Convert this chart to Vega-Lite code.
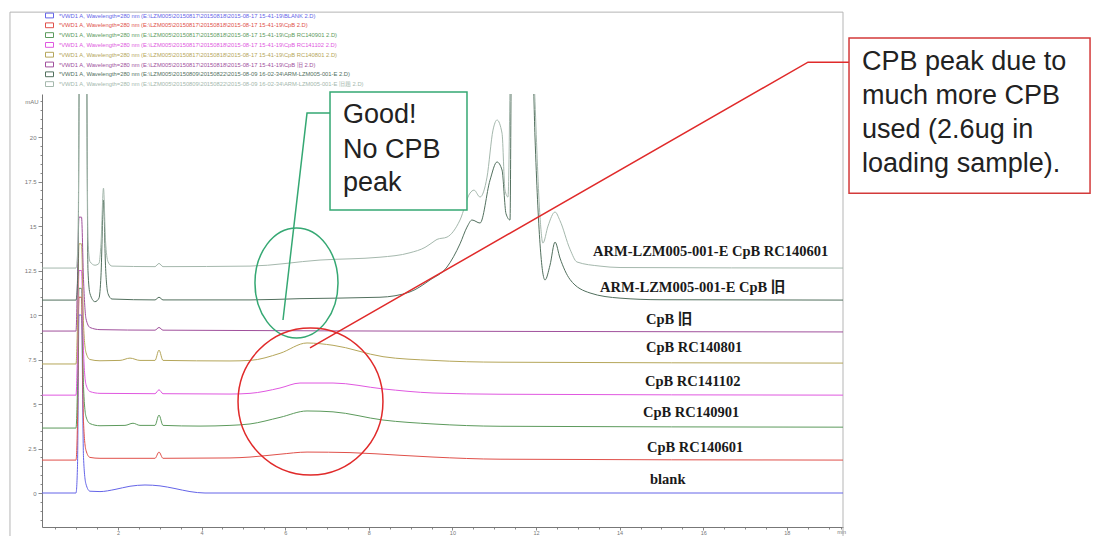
{
  "$schema": "https://vega.github.io/schema/vega-lite/v6.json",
  "width": 801,
  "height": 433,
  "autosize": {"type": "none"},
  "padding": {"left": 42, "top": 94, "right": 253, "bottom": 9},
  "background": "white",
  "config": {"view": {"stroke": null}, "font": "Liberation Sans"},
  "datasets": {
    "series": [
      {"k": "blank", "file": "*VWD1 A, Wavelength=280 nm (E:\\LZM005\\20150817\\20150818\\2015-08-17 15-41-19\\BLANK 2.D)"},
      {"k": "RC140601", "file": "*VWD1 A, Wavelength=280 nm (E:\\LZM005\\20150817\\20150818\\2015-08-17 15-41-19\\CpB 2.D)"},
      {"k": "RC140901", "file": "*VWD1 A, Wavelength=280 nm (E:\\LZM005\\20150817\\20150818\\2015-08-17 15-41-19\\CpB RC140901 2.D)"},
      {"k": "RC141102", "file": "*VWD1 A, Wavelength=280 nm (E:\\LZM005\\20150817\\20150818\\2015-08-17 15-41-19\\CpB RC141102 2.D)"},
      {"k": "RC140801", "file": "*VWD1 A, Wavelength=280 nm (E:\\LZM005\\20150817\\20150818\\2015-08-17 15-41-19\\CpB RC140801 2.D)"},
      {"k": "old", "file": "*VWD1 A, Wavelength=280 nm (E:\\LZM005\\20150817\\20150818\\2015-08-17 15-41-19\\CpB 旧 2.D)"},
      {"k": "ARMold", "file": "*VWD1 A, Wavelength=280 nm (E:\\LZM005\\20150809\\20150822\\2015-08-09 16-02-34\\ARM-LZM005-001-E 2.D)"},
      {"k": "ARM601", "file": "*VWD1 A, Wavelength=280 nm (E:\\LZM005\\20150809\\20150822\\2015-08-09 16-02-34\\ARM-LZM005-001-E 旧题 2.D)"}
    ],
    "traces": [
      {"k":"blank","t":0.182,"v":0},{"k":"blank","t":0.995,"v":0},{"k":"blank","t":1.031,"v":1.5},{"k":"blank","t":1.067,"v":10},{"k":"blank","t":1.127,"v":10},{"k":"blank","t":1.175,"v":2},{"k":"blank","t":1.234,"v":0.5},{"k":"blank","t":1.33,"v":0.1},{"k":"blank","t":1.569,"v":0.08},{"k":"blank","t":1.928,"v":0.2},{"k":"blank","t":2.287,"v":0.38},{"k":"blank","t":2.646,"v":0.45},{"k":"blank","t":3.005,"v":0.4},{"k":"blank","t":3.364,"v":0.25},{"k":"blank","t":3.722,"v":0.08},{"k":"blank","t":4.081,"v":0},{"k":"blank","t":19.344,"v":0},
      {"k":"RC140601","t":0.182,"v":1.85},{"k":"RC140601","t":0.995,"v":1.85},{"k":"RC140601","t":1.031,"v":4},{"k":"RC140601","t":1.067,"v":11},{"k":"RC140601","t":1.127,"v":11},{"k":"RC140601","t":1.175,"v":4},{"k":"RC140601","t":1.234,"v":2.4},{"k":"RC140601","t":1.33,"v":2.0},{"k":"RC140601","t":1.569,"v":1.95},{"k":"RC140601","t":2.885,"v":1.95},{"k":"RC140601","t":2.981,"v":2.3},{"k":"RC140601","t":3.077,"v":1.95},{"k":"RC140601","t":4.679,"v":1.97},{"k":"RC140601","t":5.158,"v":2.02},{"k":"RC140601","t":5.876,"v":2.18},{"k":"RC140601","t":6.522,"v":2.3},{"k":"RC140601","t":7.55,"v":2.27},{"k":"RC140601","t":8.746,"v":2.12},{"k":"RC140601","t":9.536,"v":2.02},{"k":"RC140601","t":11.139,"v":1.9},{"k":"RC140601","t":19.344,"v":1.85},
      {"k":"RC140901","t":0.182,"v":3.65},{"k":"RC140901","t":0.995,"v":3.65},{"k":"RC140901","t":1.031,"v":6},{"k":"RC140901","t":1.067,"v":11.5},{"k":"RC140901","t":1.127,"v":11.5},{"k":"RC140901","t":1.175,"v":6},{"k":"RC140901","t":1.234,"v":4.3},{"k":"RC140901","t":1.33,"v":3.9},{"k":"RC140901","t":1.569,"v":3.78},{"k":"RC140901","t":2.167,"v":3.8},{"k":"RC140901","t":2.359,"v":3.92},{"k":"RC140901","t":2.526,"v":3.8},{"k":"RC140901","t":2.885,"v":3.8},{"k":"RC140901","t":2.981,"v":4.38},{"k":"RC140901","t":3.077,"v":3.8},{"k":"RC140901","t":3.962,"v":3.76},{"k":"RC140901","t":4.679,"v":3.8},{"k":"RC140901","t":5.158,"v":3.88},{"k":"RC140901","t":5.876,"v":4.25},{"k":"RC140901","t":6.522,"v":4.61},{"k":"RC140901","t":7.144,"v":4.56},{"k":"RC140901","t":8.34,"v":4.1},{"k":"RC140901","t":9.536,"v":3.88},{"k":"RC140901","t":11.139,"v":3.75},{"k":"RC140901","t":19.344,"v":3.7},
      {"k":"RC141102","t":0.182,"v":5.5},{"k":"RC141102","t":0.995,"v":5.5},{"k":"RC141102","t":1.031,"v":8},{"k":"RC141102","t":1.067,"v":12.5},{"k":"RC141102","t":1.127,"v":12.5},{"k":"RC141102","t":1.175,"v":8},{"k":"RC141102","t":1.234,"v":6.1},{"k":"RC141102","t":1.33,"v":5.7},{"k":"RC141102","t":1.569,"v":5.6},{"k":"RC141102","t":2.885,"v":5.58},{"k":"RC141102","t":2.981,"v":5.8},{"k":"RC141102","t":3.077,"v":5.58},{"k":"RC141102","t":4.679,"v":5.56},{"k":"RC141102","t":5.158,"v":5.6},{"k":"RC141102","t":5.876,"v":5.9},{"k":"RC141102","t":6.354,"v":6.18},{"k":"RC141102","t":7.144,"v":6.18},{"k":"RC141102","t":8.34,"v":5.85},{"k":"RC141102","t":9.536,"v":5.62},{"k":"RC141102","t":11.139,"v":5.55},{"k":"RC141102","t":19.344,"v":5.5},
      {"k":"RC140801","t":0.182,"v":7.25},{"k":"RC140801","t":0.995,"v":7.25},{"k":"RC140801","t":1.031,"v":9.5},{"k":"RC140801","t":1.067,"v":14},{"k":"RC140801","t":1.127,"v":14},{"k":"RC140801","t":1.175,"v":9.5},{"k":"RC140801","t":1.234,"v":7.9},{"k":"RC140801","t":1.33,"v":7.5},{"k":"RC140801","t":1.569,"v":7.43},{"k":"RC140801","t":2.048,"v":7.45},{"k":"RC140801","t":2.287,"v":7.58},{"k":"RC140801","t":2.526,"v":7.45},{"k":"RC140801","t":2.885,"v":7.45},{"k":"RC140801","t":2.981,"v":8.03},{"k":"RC140801","t":3.077,"v":7.45},{"k":"RC140801","t":4.679,"v":7.42},{"k":"RC140801","t":5.158,"v":7.45},{"k":"RC140801","t":5.876,"v":7.85},{"k":"RC140801","t":6.522,"v":8.43},{"k":"RC140801","t":7.144,"v":8.3},{"k":"RC140801","t":8.34,"v":7.66},{"k":"RC140801","t":9.536,"v":7.45},{"k":"RC140801","t":11.139,"v":7.35},{"k":"RC140801","t":19.344,"v":7.3},
      {"k":"old","t":0.182,"v":9.1},{"k":"old","t":0.995,"v":9.1},{"k":"old","t":1.031,"v":12},{"k":"old","t":1.067,"v":15.5},{"k":"old","t":1.127,"v":15.5},{"k":"old","t":1.175,"v":12},{"k":"old","t":1.234,"v":9.8},{"k":"old","t":1.33,"v":9.3},{"k":"old","t":1.569,"v":9.18},{"k":"old","t":2.885,"v":9.15},{"k":"old","t":2.981,"v":9.3},{"k":"old","t":3.077,"v":9.15},{"k":"old","t":19.344,"v":9.05},
      {"k":"ARMold","t":0.182,"v":10.84},{"k":"ARMold","t":0.995,"v":10.84},{"k":"ARMold","t":1.043,"v":12.5},{"k":"ARMold","t":1.091,"v":30},{"k":"ARMold","t":1.234,"v":30},{"k":"ARMold","t":1.282,"v":12.5},{"k":"ARMold","t":1.33,"v":11.2},{"k":"ARMold","t":1.45,"v":10.75},{"k":"ARMold","t":1.545,"v":10.95},{"k":"ARMold","t":1.593,"v":12.2},{"k":"ARMold","t":1.653,"v":16.46},{"k":"ARMold","t":1.701,"v":12.8},{"k":"ARMold","t":1.761,"v":11.2},{"k":"ARMold","t":1.856,"v":10.9},{"k":"ARMold","t":2.885,"v":10.85},{"k":"ARMold","t":2.981,"v":11.0},{"k":"ARMold","t":3.077,"v":10.85},{"k":"ARMold","t":5.158,"v":10.85},{"k":"ARMold","t":6.354,"v":10.92},{"k":"ARMold","t":8.268,"v":11.0},{"k":"ARMold","t":8.986,"v":11.3},{"k":"ARMold","t":9.464,"v":11.97},{"k":"ARMold","t":9.871,"v":12.7},{"k":"ARMold","t":10.182,"v":14.0},{"k":"ARMold","t":10.349,"v":14.94},{"k":"ARMold","t":10.469,"v":15.34},{"k":"ARMold","t":10.661,"v":15.17},{"k":"ARMold","t":10.9,"v":17.58},{"k":"ARMold","t":11.067,"v":18.6},{"k":"ARMold","t":11.187,"v":18.15},{"k":"ARMold","t":11.282,"v":15.7},{"k":"ARMold","t":11.378,"v":15.34},{"k":"ARMold","t":11.426,"v":30},{"k":"ARMold","t":11.856,"v":30},{"k":"ARMold","t":11.976,"v":20},{"k":"ARMold","t":12.096,"v":14},{"k":"ARMold","t":12.215,"v":11.97},{"k":"ARMold","t":12.335,"v":12.8},{"k":"ARMold","t":12.455,"v":14.1},{"k":"ARMold","t":12.574,"v":13.2},{"k":"ARMold","t":12.813,"v":12.0},{"k":"ARMold","t":13.292,"v":11.24},{"k":"ARMold","t":14.01,"v":10.95},{"k":"ARMold","t":14.967,"v":10.86},{"k":"ARMold","t":19.344,"v":10.84},
      {"k":"ARM601","t":0.182,"v":12.64},{"k":"ARM601","t":0.995,"v":12.64},{"k":"ARM601","t":1.043,"v":14},{"k":"ARM601","t":1.091,"v":30},{"k":"ARM601","t":1.234,"v":30},{"k":"ARM601","t":1.282,"v":14.2},{"k":"ARM601","t":1.33,"v":13.0},{"k":"ARM601","t":1.45,"v":12.8},{"k":"ARM601","t":1.545,"v":12.9},{"k":"ARM601","t":1.593,"v":14.0},{"k":"ARM601","t":1.653,"v":17.13},{"k":"ARM601","t":1.701,"v":14.2},{"k":"ARM601","t":1.761,"v":13.0},{"k":"ARM601","t":1.856,"v":12.75},{"k":"ARM601","t":2.885,"v":12.72},{"k":"ARM601","t":2.981,"v":12.9},{"k":"ARM601","t":3.077,"v":12.72},{"k":"ARM601","t":5.158,"v":12.75},{"k":"ARM601","t":6.833,"v":13.09},{"k":"ARM601","t":8.268,"v":13.25},{"k":"ARM601","t":8.986,"v":13.5},{"k":"ARM601","t":9.344,"v":13.8},{"k":"ARM601","t":9.536,"v":14.1},{"k":"ARM601","t":9.632,"v":14.25},{"k":"ARM601","t":9.871,"v":14.38},{"k":"ARM601","t":10.182,"v":15.34},{"k":"ARM601","t":10.421,"v":16.85},{"k":"ARM601","t":10.517,"v":17.02},{"k":"ARM601","t":10.661,"v":16.63},{"k":"ARM601","t":10.828,"v":17.75},{"k":"ARM601","t":10.971,"v":20.39},{"k":"ARM601","t":11.067,"v":20.96},{"k":"ARM601","t":11.187,"v":20.22},{"k":"ARM601","t":11.258,"v":17.02},{"k":"ARM601","t":11.33,"v":16.63},{"k":"ARM601","t":11.426,"v":30},{"k":"ARM601","t":11.856,"v":30},{"k":"ARM601","t":11.976,"v":22},{"k":"ARM601","t":12.096,"v":15.5},{"k":"ARM601","t":12.165,"v":14.04},{"k":"ARM601","t":12.287,"v":15.0},{"k":"ARM601","t":12.455,"v":15.79},{"k":"ARM601","t":12.574,"v":15.3},{"k":"ARM601","t":12.813,"v":13.7},{"k":"ARM601","t":12.981,"v":12.98},{"k":"ARM601","t":13.531,"v":12.75},{"k":"ARM601","t":14.01,"v":12.67},{"k":"ARM601","t":19.344,"v":12.64}
    ],
    "labels": [
      {"label": "ARM-LZM005-001-E CpB RC140601", "t": 13.364, "v": 13.54},
      {"label": "ARM-LZM005-001-E  CpB 旧", "t": 13.531, "v": 11.52},
      {"label": "CpB 旧", "t": 14.632, "v": 9.72},
      {"label": "CpB RC140801", "t": 14.632, "v": 8.15},
      {"label": "CpB RC141102", "t": 14.608, "v": 6.24},
      {"label": "CpB RC140901", "t": 14.56, "v": 4.49},
      {"label": "CpB RC140601", "t": 14.656, "v": 2.53},
      {"label": "blank", "t": 14.727, "v": 0.73}
    ],
    "frame": [{"t": -0.584, "t2": 19.344, "v": 27.02, "v2": -3}],
    "boxes": [
      {"g": "green", "t": 7.072, "t2": 10.349, "v": 22.53, "v2": 15.9},
      {"g": "red", "t": 19.488, "t2": 25.254, "v": 25.56, "v2": 16.85}
    ],
    "paths": [
      {"g": "green", "i": 0, "t": 7.072, "v": 21.35},
      {"g": "green", "i": 1, "t": 6.522, "v": 21.35},
      {"g": "green", "i": 2, "t": 5.947, "v": 9.72},
      {"g": "red", "i": 0, "t": 6.593, "v": 8.15},
      {"g": "red", "i": 1, "t": 18.507, "v": 24.21},
      {"g": "red", "i": 2, "t": 19.488, "v": 24.21}
    ],
    "rings": [
      {"g": "green", "t": 6.27, "v": 11.8},
      {"g": "red", "t": 6.605, "v": 5.14}
    ],
    "notes": [
      {"g": "green", "text": "Good!", "t": 7.383, "v": 21.24},
      {"g": "green", "text": "No CPB", "t": 7.383, "v": 19.27},
      {"g": "green", "text": "peak", "t": 7.383, "v": 17.42},
      {"g": "red", "text": "CPB peak due to", "t": 19.8, "v": 24.21},
      {"g": "red", "text": "much more CPB", "t": 19.8, "v": 22.3},
      {"g": "red", "text": "used (2.6ug in", "t": 19.8, "v": 20.39},
      {"g": "red", "text": "loading sample).", "t": 19.8, "v": 18.48}
    ]
  },
  "encoding": {
    "x": {
      "field": "t", "type": "quantitative",
      "scale": {"domain": [0.182, 19.344], "nice": false, "zero": false},
      "axis": {
        "title": null, "grid": false,
        "values": [0.5,1,1.5,2,2.5,3,3.5,4,4.5,5,5.5,6,6.5,7,7.5,8,8.5,9,9.5,10,10.5,11,11.5,12,12.5,13,13.5,14,14.5,15,15.5,16,16.5,17,17.5,18,18.5,19,19.3],
        "format": "~g",
        "labelExpr": "datum.value > 19.1 ? 'min' : (datum.value % 2 == 0 ? datum.label : '')",
        "tickSize": {"condition": {"test": "datum.value % 2 == 0", "value": 3}, "value": 2},
        "domainColor": "#777", "tickColor": "#888", "labelColor": "#777",
        "labelFontSize": 5.5, "labelPadding": 0, "labelOverlap": false, "labelFlush": false
      }
    },
    "y": {
      "field": "v", "type": "quantitative",
      "scale": {"domain": [-1.91, 22.42], "nice": false, "zero": false},
      "axis": {
        "title": null, "grid": false,
        "values": [-1.5,-1,-0.5,0,0.5,1,1.5,2,2.5,3,3.5,4,4.5,5,5.5,6,6.5,7,7.5,8,8.5,9,9.5,10,10.5,11,11.5,12,12.5,13,13.5,14,14.5,15,15.5,16,16.5,17,17.5,18,18.5,19,19.5,20,20.5,21,21.5,22],
        "format": "~g",
        "labelExpr": "datum.value == 22 ? 'mAU' : (datum.value % 2.5 == 0 ? datum.label : '')",
        "tickSize": {"condition": {"test": "datum.value % 2.5 == 0", "value": 4}, "value": 2},
        "domainColor": "#777", "tickColor": "#888", "labelColor": "#777",
        "labelFontSize": 6, "labelPadding": 2, "labelOverlap": false, "labelFlush": false
      }
    }
  },
  "layer": [
    {
      "data": {"name": "frame"},
      "mark": {"type": "rect", "fill": null, "stroke": "#b5b5b5", "strokeWidth": 1, "clip": false},
      "encoding": {"x2": {"field": "t2"}, "y2": {"field": "v2"}}
    },
    {
      "data": {"name": "traces"},
      "transform": [{"lookup": "k", "from": {"data": {"name": "series"}, "key": "k", "fields": ["file"]}}],
      "mark": {"type": "line", "strokeWidth": 1, "clip": true, "interpolate": "monotone"},
      "encoding": {
        "color": {
          "field": "file", "type": "nominal",
          "scale": {
            "domain": [
              "*VWD1 A, Wavelength=280 nm (E:\\LZM005\\20150817\\20150818\\2015-08-17 15-41-19\\BLANK 2.D)",
              "*VWD1 A, Wavelength=280 nm (E:\\LZM005\\20150817\\20150818\\2015-08-17 15-41-19\\CpB 2.D)",
              "*VWD1 A, Wavelength=280 nm (E:\\LZM005\\20150817\\20150818\\2015-08-17 15-41-19\\CpB RC140901 2.D)",
              "*VWD1 A, Wavelength=280 nm (E:\\LZM005\\20150817\\20150818\\2015-08-17 15-41-19\\CpB RC141102 2.D)",
              "*VWD1 A, Wavelength=280 nm (E:\\LZM005\\20150817\\20150818\\2015-08-17 15-41-19\\CpB RC140801 2.D)",
              "*VWD1 A, Wavelength=280 nm (E:\\LZM005\\20150817\\20150818\\2015-08-17 15-41-19\\CpB 旧 2.D)",
              "*VWD1 A, Wavelength=280 nm (E:\\LZM005\\20150809\\20150822\\2015-08-09 16-02-34\\ARM-LZM005-001-E 2.D)",
              "*VWD1 A, Wavelength=280 nm (E:\\LZM005\\20150809\\20150822\\2015-08-09 16-02-34\\ARM-LZM005-001-E 旧题 2.D)"
            ],
            "range": ["#6464e8", "#e0504a", "#5c9a5c", "#e058e0", "#b5a65a", "#a0509c", "#52705e", "#a5b8ad"]
          },
          "legend": {
            "orient": "none", "legendX": 3, "legendY": -83, "title": null, "padding": 0,
            "rowPadding": 0.8, "labelFontSize": 5.8, "labelLimit": 500, "labelOffset": 5,
            "symbolType": "M-1,-0.6H1V0.6H-1Z", "symbolSize": 64, "symbolStrokeWidth": 1,
            "encode": {
              "labels": {"update": {"fill": {"scale": "color", "field": "value"}}},
              "symbols": {"update": {"stroke": {"scale": "color", "field": "value"}, "fill": {"value": "white"}}}
            }
          }
        },
        "detail": {"field": "k"}
      }
    },
    {
      "data": {"name": "labels"},
      "mark": {"type": "text", "align": "left", "baseline": "middle", "font": "'Liberation Serif', 'Noto Sans CJK SC', serif", "fontWeight": "bold", "fontSize": 14.5, "color": "#1a1a1a", "clip": false},
      "encoding": {"text": {"field": "label"}}
    },
    {
      "data": {"name": "boxes"},
      "transform": [{"filter": "datum.g == 'green'"}],
      "mark": {"type": "rect", "fill": "white", "stroke": "#35a873", "strokeWidth": 1.5, "clip": false},
      "encoding": {"x2": {"field": "t2"}, "y2": {"field": "v2"}}
    },
    {
      "data": {"name": "paths"},
      "transform": [{"filter": "datum.g == 'green'"}],
      "mark": {"type": "line", "stroke": "#35a873", "strokeWidth": 1.5, "clip": false},
      "encoding": {"order": {"field": "i", "type": "quantitative"}}
    },
    {
      "data": {"name": "rings"},
      "transform": [{"filter": "datum.g == 'green'"}],
      "mark": {"type": "point", "shape": "M -0.755 0 A 0.755 1 0 1 1 0.755 0 A 0.755 1 0 1 1 -0.755 0 Z", "size": 12100, "filled": false, "stroke": "#35a873", "strokeWidth": 1.5, "opacity": 1, "clip": false},
      "encoding": {}
    },
    {
      "data": {"name": "paths"},
      "transform": [{"filter": "datum.g == 'red'"}],
      "mark": {"type": "line", "stroke": "#e02a2a", "strokeWidth": 1.5, "clip": false},
      "encoding": {"order": {"field": "i", "type": "quantitative"}}
    },
    {
      "data": {"name": "rings"},
      "transform": [{"filter": "datum.g == 'red'"}],
      "mark": {"type": "point", "shape": "M -0.986 0 A 0.986 1 0 1 1 0.986 0 A 0.986 1 0 1 1 -0.986 0 Z", "size": 21609, "filled": false, "stroke": "#e02a2a", "strokeWidth": 1.5, "opacity": 1, "clip": false},
      "encoding": {}
    },
    {
      "data": {"name": "boxes"},
      "transform": [{"filter": "datum.g == 'red'"}],
      "mark": {"type": "rect", "fill": "white", "stroke": "#d33a3a", "strokeWidth": 1.5, "clip": false},
      "encoding": {"x2": {"field": "t2"}, "y2": {"field": "v2"}}
    },
    {
      "data": {"name": "notes"},
      "mark": {"type": "text", "align": "left", "baseline": "middle", "font": "Liberation Sans", "fontSize": 27, "color": "#222", "clip": false},
      "encoding": {"text": {"field": "text"}}
    }
  ]
}
